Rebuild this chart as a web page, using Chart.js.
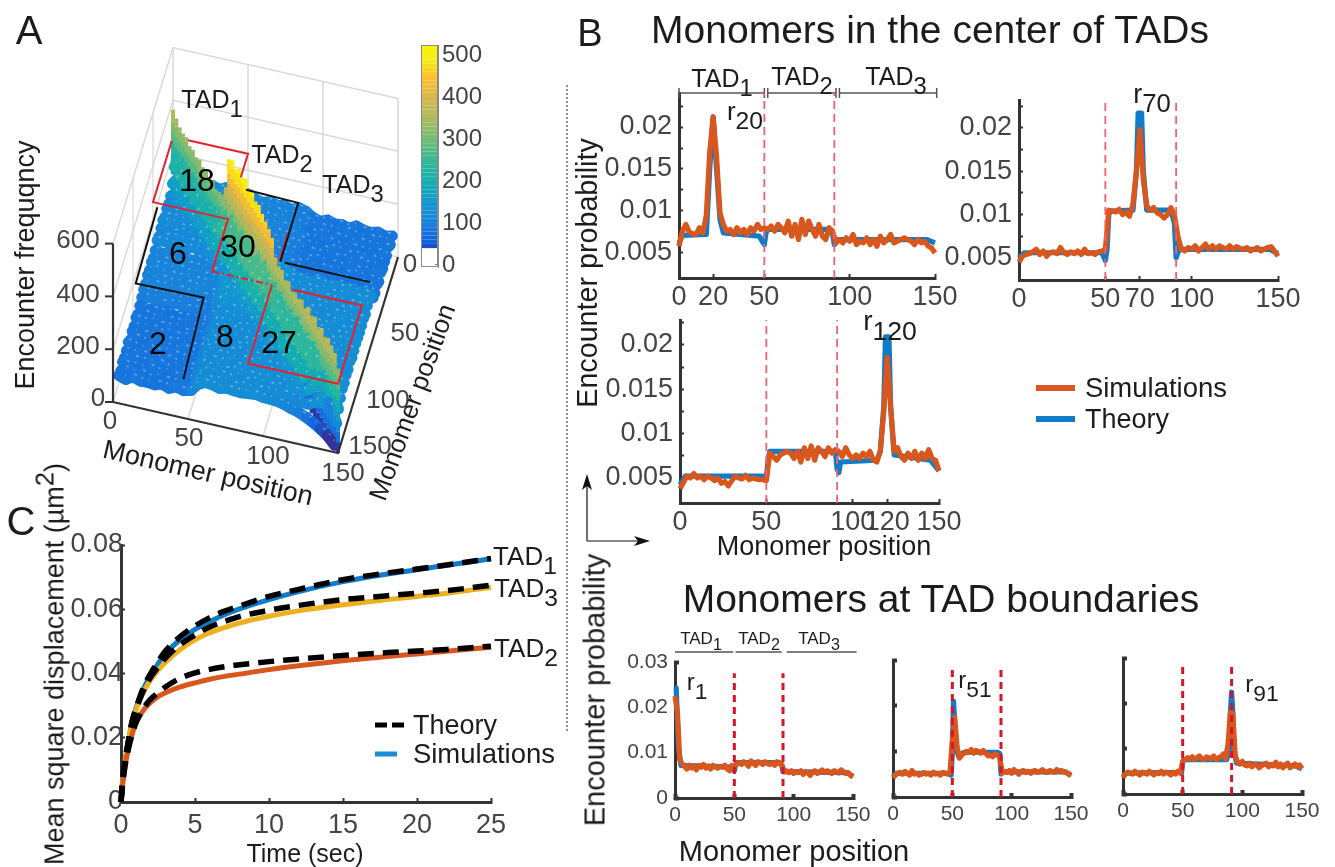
<!DOCTYPE html>
<html>
<head>
<meta charset="utf-8">
<title>TAD encounter figure</title>
<script src="https://cdn.jsdelivr.net/npm/chart.js@4"></script>
<style>
  html, body { margin: 0; background: #fff; }
  #page { position: relative; width: 1335px; height: 867px; overflow: hidden; font-family: 'Liberation Sans', Arial, sans-serif; filter: blur(0.5px); }
  canvas { position: absolute; }
  .lbl { position: absolute; white-space: nowrap; color: #1c1c1c; transform: translate(-50%, -50%); line-height: 1; }
  .lbl sub { font-size: .95em; vertical-align: -.38em; line-height: 0; }
  .lbl sup { font-size: .95em; vertical-align: .38em; line-height: 0; }
  .swatch { position: absolute; }
  svg { position: absolute; left: 0; top: 0; }
</style>
</head>
<body>
<div id="page"></div>
<script>
// ---- panel A: encounter map, one row per 5 monomers (rows y=0..150, columns x=0..150)
const encounterRows = [
  [260,190,150,128,122,127,119,131,124,118,126,112,106,115,108,113,104,117,109,92,84,95,86,90,82,97,88,85,93,83,90],
  [190,250,185,150,125,118,130,122,127,121,129,106,114,109,117,103,112,108,115,85,94,87,91,83,96,89,84,92,86,95,81],
  [150,185,250,188,148,126,120,131,119,128,123,115,105,111,107,116,110,104,113,90,83,97,86,92,88,82,94,87,91,84,96],
  [128,150,188,245,186,150,124,118,130,122,127,109,116,104,112,107,114,111,105,86,93,84,95,88,81,96,85,90,83,94,87],
  [122,125,148,186,240,184,147,127,121,129,118,113,108,117,105,111,103,115,110,94,87,91,82,97,89,84,92,86,96,82,88],
  [127,118,126,150,184,240,182,149,123,119,131,104,112,107,116,109,114,106,117,83,92,88,96,85,90,94,81,97,87,91,85],
  [119,130,120,124,147,182,238,186,146,128,122,116,109,113,105,118,107,112,104,91,85,95,87,93,83,89,96,84,92,86,94],
  [131,122,131,118,127,149,186,236,188,150,125,108,115,106,114,110,117,103,111,87,96,82,92,86,94,90,85,97,83,89,84],
  [124,127,119,130,121,123,146,188,240,192,158,117,104,112,109,115,106,113,108,95,84,90,88,81,97,86,93,82,91,85,96],
  [118,121,128,122,129,119,128,150,192,270,215,150,113,108,116,104,111,107,115,82,91,86,94,89,85,96,83,92,87,95,88],
  [126,129,123,127,118,131,122,125,158,215,290,225,165,118,106,112,109,116,103,93,87,97,83,91,88,84,95,86,90,82,94],
  [112,106,115,109,113,104,116,108,117,150,225,300,230,180,150,156,148,160,152,128,134,126,131,137,125,133,129,135,127,132,124],
  [106,114,105,116,108,112,109,115,104,113,165,230,300,232,182,150,158,147,155,133,127,135,124,130,136,128,131,126,134,129,137],
  [115,109,111,104,117,107,113,106,112,108,118,180,232,300,235,185,152,157,149,126,132,129,136,125,131,134,127,133,130,128,135],
  [108,117,107,112,105,116,105,114,109,116,106,150,182,235,300,236,186,150,159,131,125,137,128,134,126,130,136,124,132,135,127],
  [113,103,116,107,111,109,118,110,115,104,112,156,150,185,236,300,238,188,153,135,129,124,133,127,137,125,131,135,126,130,134],
  [104,112,110,114,103,114,107,117,106,111,109,148,158,152,186,238,300,240,190,127,136,131,125,135,129,133,124,128,137,126,131],
  [106,102,100,104,108,99,105,97,103,100,106,150,147,150,146,188,240,300,242,195,130,126,134,128,132,127,136,131,125,133,129],
  [100,106,104,97,102,108,96,103,100,106,95,138,142,136,144,140,190,242,290,235,175,140,127,133,130,136,126,129,134,128,132],
  [92,85,90,86,94,83,91,87,95,82,93,128,133,126,131,135,127,195,235,280,225,170,142,136,131,139,133,128,137,130,135],
  [84,94,83,93,87,92,85,96,84,91,87,134,127,132,125,129,136,130,175,225,270,222,168,140,134,129,138,132,127,136,131],
  [95,87,97,84,91,88,95,82,90,86,97,126,135,129,137,124,131,126,140,170,222,270,224,166,141,135,128,137,131,134,129],
  [86,91,86,95,82,96,87,92,88,94,83,131,124,136,128,133,125,134,127,142,168,224,268,220,165,138,133,127,136,130,138],
  [90,83,92,88,97,85,93,86,81,89,91,137,130,125,134,127,135,128,133,136,140,166,220,268,222,167,139,134,128,137,132],
  [82,96,88,81,89,90,83,94,97,85,88,125,136,131,126,137,129,132,130,131,134,141,165,222,266,224,170,136,133,129,135],
  [97,89,82,96,84,94,89,90,86,96,84,133,128,134,130,125,133,127,136,139,129,135,138,167,224,266,226,168,135,131,128],
  [88,84,94,85,92,81,96,85,93,83,95,129,131,127,136,131,124,136,126,133,138,128,133,139,170,226,264,222,166,137,130],
  [85,92,87,90,86,97,84,97,82,92,86,135,126,133,124,135,128,131,129,128,132,137,127,134,136,168,222,260,218,160,118],
  [93,86,91,83,96,87,92,83,91,87,90,127,134,130,132,126,137,125,134,137,127,131,136,128,133,135,150,190,210,170,100],
  [83,95,84,94,82,91,86,89,85,95,82,132,129,128,135,130,126,133,128,130,136,134,130,137,129,120,118,130,150,140,70],
  [90,81,96,87,88,85,94,84,96,88,94,124,137,135,127,134,131,129,132,135,131,129,128,122,112,104,92,78,60,40,10]
];
// ridge height along the diagonal, one value per 3 monomers
const ridgeTop = [365,350,335,330,335,320,325,315,325,315,320,310,320,305,315,325,370,495,510,495,515,500,515,495,505,485,490,475,465,455,440,385,370,375,355,370,350,365,360,375,360,385,370,385,365,380,365,380,370,360,320];
const colorStops = [0,40,60,100,150,200,250,300,350,400,450,500];
const colorValues = ['#3a2a8a','#2b3aa8','#0f62e0','#1a7edc','#1296d2','#14aeb0','#30b898','#70bc78','#a8ba60','#d4b64e','#fcbf2e','#f8f00f'];
const colorbarLevels = [40,50,60,70,80,90,100,110,120,130,140,150,160,170,180,190,200,210,220,230,240,250,260,270,280,290,300,310,320,330,340,350,360,370,380,390,400,410,420,430,440,450,460,470,480,490,500,524];
const colorbarTicks = [0,100,200,300,400,500];
const redPaths = [
  [[10,0],[50,0],[50,18]],
  [[0,3],[0,50],[50,50],[50,90]],
  [[90,90],[90,150],[150,150],[150,90],[104,90]],
  [[90,50],[90,72]]
];
const redDashedPath = [[50,90],[90,90]];
const blackPaths = [
  [[0,39],[1,97],[46,96],[49,158]],
  [[52,12],[87,13],[87,58]],
  [[90,58],[147,58]]
];

// ---- panel B/D: simulations sampled every 2 monomers, in units of 1e-4
const r20Sim = [58,76,84,75,73,72,80,74,95,170,212,165,98,84,76,78,72,80,74,78,72,80,76,84,78,80,78,82,76,84,80,74,88,70,84,66,90,72,88,78,70,84,70,66,80,76,62,66,62,68,64,72,60,64,62,68,60,66,58,70,62,66,72,62,64,66,68,66,64,60,66,62,64,58,56,50];
const r20TheoryX = [0,2,16,18,20,22,24,26,47,49,50,51,52,88,90,91,92,93,145,150];
const r20TheoryY = [62,71,72,150,212,150,90,74,70,63,60,74,78,78,72,60,62,66,66,62];
const r70Sim = [45,52,54,55,57,60,54,58,52,56,57,55,62,56,54,57,55,58,54,60,55,56,54,57,58,60,105,104,103,106,100,103,98,112,150,198,140,110,105,108,102,100,96,100,108,100,75,60,58,62,60,64,58,62,66,60,64,60,64,62,60,64,60,63,61,60,62,58,60,62,58,60,62,63,58,52];
const r70TheoryX = [0,3,48,50,51,52,53,66,68,69,71,72,74,88,90,91,92,93,145,150];
const r70TheoryY = [50,56,56,47,60,100,104,105,150,217,217,150,105,105,90,50,56,60,60,55];
const r120Sim = [38,45,52,50,55,50,52,48,52,50,47,50,44,46,41,47,52,50,49,53,48,50,49,48,48,47,78,74,70,76,78,80,78,72,80,68,84,72,86,70,84,80,74,84,78,82,80,74,84,76,72,76,72,78,74,80,70,68,80,125,186,130,80,84,74,70,78,72,80,70,78,72,82,72,70,58];
const r120TheoryX = [0,3,48,50,51,52,90,91,92,93,114,116,118,119,121,122,124,145,150];
const r120TheoryY = [42,52,52,50,70,80,80,60,56,68,70,80,130,209,209,130,76,70,58];
const r1Sim = [225,190,85,75,70,64,72,66,70,62,72,68,74,66,70,64,72,68,66,70,68,72,64,60,72,68,76,78,74,80,76,70,82,76,72,80,78,74,80,76,74,78,72,80,76,74,58,60,56,60,54,58,56,60,52,58,55,50,58,60,54,58,62,56,60,58,54,60,58,55,62,58,54,56,50,46];
const r1TheoryX = [0,1,3,5,48,50,51,52,88,90,91,145,150];
const r1TheoryY = [243,243,110,72,68,60,72,78,78,72,58,56,48];
const r51Sim = [42,48,52,54,50,56,52,48,58,50,52,48,50,54,50,52,48,54,50,52,48,54,52,50,54,125,175,110,85,92,96,100,98,104,96,102,100,96,102,96,90,92,88,94,92,88,52,56,54,58,52,60,55,50,56,58,54,56,52,57,58,54,56,60,55,54,58,56,54,60,56,58,55,54,50,46];
const r51TheoryX = [0,3,47,49,50,51,52,53,55,60,88,90,91,92,145,150];
const r51TheoryY = [45,52,52,48,100,210,160,110,90,98,98,95,50,55,55,48];
const r91Sim = [36,44,48,46,44,50,46,42,48,46,44,50,46,42,47,45,50,44,48,46,42,48,44,50,46,72,76,80,78,82,76,80,84,78,76,82,80,78,84,76,80,82,88,78,110,180,178,85,70,66,72,64,62,68,60,64,66,58,62,66,68,60,64,62,70,60,66,58,64,68,58,62,66,60,64,56];
const r91TheoryX = [0,3,48,49,50,51,87,89,90,91,92,93,95,145,150];
const r91TheoryY = [38,46,48,46,70,76,76,100,180,225,180,100,68,62,55];
const centerYTicks = [0.005,0.0075,0.01,0.0125,0.015,0.0175,0.02,0.0225];
const centerYLabels = ['0.005','','0.01','','0.015','','0.02',''];
const boundaryYTicks = [0,0.01,0.02,0.03];
const boundaryYLabels = ['0','0.01','0.02','0.03'];
const tadBoundaries = [50,91];
const tadBracketB = [[0,50],[52,92],[94,151]];
const tadBracketD = [[0,49],[51,90],[94,153]];

// ---- panel C: mean square displacement
const timeSec = [0,0.1,0.25,0.5,0.75,1,1.5,2,2.5,3,4,5,6,7,8,10,12,15,18,20,22,25];
const tad1Sim = [0,.006,.012,.019,.025,.029,.035,.0395,.043,.0462,.0505,.0537,.0562,.0583,.0601,.063,.0655,.0686,.071,.0723,.0737,.0757];
const tad3Sim = [0,.006,.012,.019,.0245,.0285,.034,.038,.041,.0435,.0475,.0505,.0527,.0543,.0557,.0578,.0595,.0614,.063,.064,.065,.0668];
const tad2Sim = [0,.005,.0105,.0165,.021,.0245,.0285,.031,.0328,.034,.0358,.0371,.0382,.0391,.0398,.0412,.0424,.044,.0453,.0461,.0469,.0482];
const tad1Theory = [0,.006,.012,.019,.025,.029,.0355,.04,.0437,.047,.0515,.0548,.0574,.0594,.061,.064,.0662,.0692,.0713,.0725,.0738,.0758];
const tad3Theory = [0,.006,.012,.019,.025,.0285,.0345,.0388,.042,.0448,.049,.052,.0545,.0562,.0577,.0597,.0612,.063,.0642,.065,.0658,.0675];
const tad2Theory = [0,.005,.0105,.0165,.021,.0245,.029,.032,.034,.0358,.0385,.0402,.0413,.0421,.0427,.0437,.0445,.0456,.0465,.047,.0475,.0485];

const BLUE = '#0f7bc9', ORANGE = '#d9561c', YELLOW = '#edb120', AXIS = '#333333', TICKTEXT = '#444444';
const page = document.getElementById('page');
Chart.defaults.font.family = "'Liberation Sans', Arial, sans-serif";

function addCanvas(left, top, width, height) {
  const c = document.createElement('canvas');
  c.width = width; c.height = height;
  c.style.left = left + 'px'; c.style.top = top + 'px';
  c.style.width = width + 'px'; c.style.height = height + 'px';
  page.appendChild(c);
  return c;
}

function label(html, x, y, size, opts = {}) {
  const d = document.createElement('div');
  d.className = 'lbl';
  d.innerHTML = html;
  d.style.left = x + 'px'; d.style.top = y + 'px'; d.style.fontSize = size + 'px';
  if (opts.color) d.style.color = opts.color;
  if (opts.rot) d.style.transform = `translate(-50%,-50%) rotate(${opts.rot}deg)`;
  page.appendChild(d);
}

function line(points, color, width, extra = {}) {
  return Object.assign({ data: points, showLine: true, borderColor: color, borderWidth: width, pointRadius: 0, clip: false, borderCapStyle: 'butt' }, extra);
}

// box = pixel edges of the plot area, so panels land where they do in the figure
function axesChart(box, datasets, cfg) {
  const padL = 75, padR = 32, padT = 18, padB = 42;
  const w = box.right - box.left + padL + padR;
  const h = box.bottom - box.top + padT + padB;
  return new Chart(addCanvas(box.left - padL, box.top - padT, w, h), {
    type: 'scatter',
    data: { datasets },
    options: {
      responsive: false, animation: false, devicePixelRatio: 1,
      layout: { autoPadding: false, padding: { left: 0, right: padR, top: padT, bottom: 0 } },
      plugins: { legend: { display: false }, tooltip: { enabled: false } },
      scales: {
        x: {
          type: 'linear', min: cfg.xMin, max: cfg.xMax,
          afterFit: s => { s.height = padB; s.paddingLeft = 0; s.paddingRight = 0; },
          afterBuildTicks: s => { s.ticks = cfg.xTicks.map(v => ({ value: v })); },
          border: { color: AXIS, width: cfg.axisWidth },
          grid: { drawOnChartArea: false, tickLength: -4, tickWidth: cfg.tickWidth, tickColor: AXIS },
          ticks: { autoSkip: false, maxRotation: 0, padding: cfg.xPad, color: TICKTEXT, font: { size: cfg.xSize }, callback: v => String(v) }
        },
        y: {
          type: 'linear', min: cfg.yMin, max: cfg.yMax,
          afterFit: s => { s.width = padL; s.paddingTop = 0; s.paddingBottom = 0; },
          afterBuildTicks: s => { s.ticks = cfg.yTicks.map(v => ({ value: v })); },
          border: { color: AXIS, width: cfg.axisWidth },
          grid: { drawOnChartArea: false, tickLength: -4, tickWidth: cfg.tickWidth, tickColor: AXIS },
          ticks: { autoSkip: false, padding: cfg.yPad, color: TICKTEXT, font: { size: cfg.ySize }, callback: v => cfg.yLabels[cfg.yTicks.indexOf(v)] || '' }
        }
      }
    }
  });
}

function profile(box, sim, theoryX, theoryY, cfg) {
  const simPts = sim.map((v, i) => ({ x: i * 2, y: v / 1e4 }));
  const theoryPts = theoryX.map((x, i) => ({ x, y: theoryY[i] / 1e4 }));
  const sets = [];
  tadBoundaries.forEach(b => sets.push(line([{ x: b, y: cfg.yMin }, { x: b, y: cfg.dashTop }], cfg.dashColor, cfg.dashWidth, { borderDash: cfg.dash })));
  sets.push(line(simPts, ORANGE, cfg.simWidth, { borderJoinStyle: 'round' }));
  sets.push(line(theoryPts, BLUE, cfg.simWidth, { borderJoinStyle: 'round' }));
  (cfg.bracket || []).forEach(b => sets.push(line([{ x: b[0], y: cfg.bracketY }, { x: b[1], y: cfg.bracketY }], '#555555', 1.5,
    { pointStyle: 'line', pointRotation: 90, pointRadius: cfg.bracketR, pointBorderColor: '#555555', pointBorderWidth: 1.5 })));
  axesChart(box, sets, Object.assign({ xMin: 0, xMax: 150 }, cfg));
}

const centerCfg = { yTicks: centerYTicks, yLabels: centerYLabels, axisWidth: 3, tickWidth: 2, xPad: 7, yPad: 11, xSize: 27, ySize: 27,
  dashColor: '#f4606e', dashWidth: 1.8, dash: [8, 5], simWidth: 5.2 };
const boundaryCfg = { axisWidth: 3, tickWidth: 4, xPad: 9, yPad: 11, xSize: 21, ySize: 21, xTicks: [0, 50, 100, 150],
  yMin: 0, yMax: 0.03, dashColor: '#d8142a', dashWidth: 3, dash: [7, 5], simWidth: 5.2 };

profile({ left: 679, right: 935, top: 93, bottom: 278 }, r20Sim, r20TheoryX, r20TheoryY, Object.assign({}, centerCfg,
  { xTicks: [0, 20, 50, 100, 150], yMin: 0.00202, yMax: 0.02405, dashTop: 0.02405, bracket: tadBracketB, bracketY: 0.02405, bracketR: 5 }));
profile({ left: 1019, right: 1278, top: 100, bottom: 280 }, r70Sim, r70TheoryX, r70TheoryY, Object.assign({}, centerCfg,
  { xTicks: [0, 50, 70, 100, 150], yMin: 0.00246, yMax: 0.0232, dashTop: 0.0232 }));
profile({ left: 680, right: 939, top: 320, bottom: 503 }, r120Sim, r120TheoryX, r120TheoryY, Object.assign({}, centerCfg,
  { xTicks: [0, 50, 100, 120, 150], yMin: 0.00218, yMax: 0.0228, dashTop: 0.0228 }));
profile({ left: 675, right: 853, top: 662, bottom: 798 }, r1Sim, r1TheoryX, r1TheoryY, Object.assign({}, boundaryCfg,
  { yTicks: boundaryYTicks, yLabels: boundaryYLabels, dashTop: 0.0275, bracket: tadBracketD, bracketY: 0.0322, bracketR: 4 }));
profile({ left: 893, right: 1071, top: 660, bottom: 797 }, r51Sim, r51TheoryX, r51TheoryY, Object.assign({}, boundaryCfg,
  { yTicks: boundaryYTicks, yLabels: [], dashTop: 0.0285 }));
profile({ left: 1123, right: 1302, top: 658, bottom: 794 }, r91Sim, r91TheoryX, r91TheoryY, Object.assign({}, boundaryCfg,
  { yTicks: boundaryYTicks, yLabels: [], dashTop: 0.0285 }));

// panel C
const msd = ys => timeSec.map((t, i) => ({ x: t, y: ys[i] }));
const curve = { cubicInterpolationMode: 'monotone' };
const dashed = Object.assign({ borderDash: [16, 9] }, curve);
axesChart({ left: 121, right: 491, top: 545, bottom: 802 }, [
  line(msd(tad2Theory), '#000', 5.5, dashed),
  line(msd(tad3Theory), '#000', 5.5, dashed),
  line(msd(tad1Theory), '#000', 5.5, dashed),
  line(msd(tad2Sim), ORANGE, 5, curve),
  line(msd(tad3Sim), YELLOW, 5, curve),
  line(msd(tad1Sim), BLUE, 5, curve)
], { xMin: 0, xMax: 25, xTicks: [0, 5, 10, 15, 20, 25], yMin: 0, yMax: 0.08, yTicks: [0, 0.02, 0.04, 0.06, 0.08],
  yLabels: ['0', '0.02', '0.04', '0.06', '0.08'], axisWidth: 3, tickWidth: 2, xPad: 11, yPad: 2, xSize: 27, ySize: 27 });

// panel A: oblique projection of (monomer x, monomer y, frequency) onto the page
const project = (x, y, z) => ({ x: 113 + x * 1.5 + (150 - y) * 0.4, y: 402 + x * 0.34 - (150 - y) * 1.307 - z * 0.264 });
function colorFor(z) {
  for (let i = 1; i < colorStops.length; i++) {
    if (z <= colorStops[i]) {
      const f = (z - colorStops[i - 1]) / (colorStops[i] - colorStops[i - 1]);
      const a = colorValues[i - 1], b = colorValues[i];
      const ch = k => Math.round(parseInt(a.substr(k, 2), 16) * (1 - f) + parseInt(b.substr(k, 2), 16) * f);
      return `rgb(${ch(1)},${ch(3)},${ch(5)})`;
    }
  }
  return colorValues[colorValues.length - 1];
}

const sceneBack = [], sceneSurface = [], sceneTop = [];
const GRIDC = '#d9d9d9';
[0, 200, 400, 600].forEach(z => {
  sceneBack.push(line([project(0, 150, z), project(0, 0, z), project(150, 0, z)], GRIDC, 1.5));
});
[0, 50, 100, 150].forEach(x => sceneBack.push(line([project(x, 0, 0), project(x, 0, 600)], GRIDC, 1.5)));
[50, 100].forEach(x => sceneBack.push(line([project(x, 0, 0), project(x, 150, 0)], GRIDC, 1.5)));
[50, 100].forEach(y => sceneBack.push(line([project(0, y, 0), project(0, y, 600)], GRIDC, 1.2)));

// rows are inset a little so the thick round-capped strokes stay on the map edge
const rowInset = v => 3 + v * (144 / 150);
encounterRows.forEach((row, r) => {
  const y = r * 5;
  const pts = row.map((z, c) => project(rowInset(c * 5), rowInset(y), z));
  sceneSurface.push(line(pts, '#1585d8', 11, {
    borderCapStyle: 'round',
    segment: { borderColor: ctx => colorFor((row[ctx.p0DataIndex] + row[ctx.p1DataIndex]) / 2) }
  }));
  // pale flecks on the back half of each row, the map looks mottled in the figure
  const fleck = row.map((z, c) => project(rowInset(c * 5), rowInset(y) - 2.5, z));
  sceneSurface.push(line(fleck, 'rgba(255,255,255,0.3)', 1.8, { borderDash: [2, 6, 1, 9, 3, 5], borderDashOffset: r * 7 }));
  ridgeTop.forEach((top, k) => {
    const t = k * 3;
    if (t < y || t >= y + 5) return;
    const levels = [];
    // fins stand on the map, only the tail end of the ridge drops to the ground
    for (let z = t >= 120 ? 0 : 120; z < top; z += 40) levels.push(z);
    levels.push(top);
    sceneSurface.push(line(levels.map(z => project(t, t, z)), '#1585d8', 4, {
      segment: { borderColor: ctx => colorFor(levels[ctx.p1DataIndex]) }
    }));
  });
});

redPaths.forEach(p => sceneTop.push(line(p.map(q => project(q[0], q[1], 262)), '#e8202c', 2, { borderJoinStyle: 'miter' })));
sceneTop.push(line(redDashedPath.map(q => project(q[0], q[1], 262)), '#e8202c', 2, { borderDash: [7, 3, 2, 3] }));
blackPaths.forEach(p => sceneTop.push(line(p.map(q => project(q[0], q[1], 188)), '#111', 2, { borderJoinStyle: 'miter' })));
sceneTop.push(line([project(0, 150, 0), project(150, 150, 0), project(150, 0, 0)], AXIS, 2.2));
sceneTop.push(line([project(0, 150, 0), project(0, 150, 600)], AXIS, 2.2));
[0, 200, 400, 600].forEach(z => {
  const p = project(0, 150, z);
  sceneTop.push(line([p, { x: p.x - 8, y: p.y }], AXIS, 2));
});

// first dataset is painted last in Chart.js, so flip back-to-front order
const sceneSets = sceneBack.concat(sceneSurface, sceneTop).reverse();
new Chart(addCanvas(0, 0, 470, 520), {
  type: 'scatter',
  data: { datasets: sceneSets },
  options: {
    responsive: false, animation: false, devicePixelRatio: 1,
    layout: { autoPadding: false, padding: 0 },
    plugins: { legend: { display: false }, tooltip: { enabled: false } },
    scales: {
      x: { type: 'linear', min: 0, max: 470, display: false },
      y: { type: 'linear', min: 0, max: 520, reverse: true, display: false }
    }
  }
});

// colorbar
const barPts = colorbarLevels.map(v => ({ x: 0.5, y: v }));
new Chart(addCanvas(421, 30, 70, 252), {
  type: 'scatter',
  data: { datasets: [line(barPts, '#1585d8', 17, { segment: { borderColor: ctx => colorFor(colorbarLevels[ctx.p1DataIndex]) } })] },
  options: {
    responsive: false, animation: false, devicePixelRatio: 1,
    layout: { autoPadding: false, padding: { left: 0, right: 0, top: 15, bottom: 15 } },
    plugins: { legend: { display: false }, tooltip: { enabled: false } },
    scales: {
      x: { type: 'linear', min: 0, max: 1, display: false, afterFit: s => { s.height = 0; } },
      y: {
        type: 'linear', position: 'right', min: -5, max: 524,
        afterFit: s => { s.width = 53; s.paddingTop = 0; s.paddingBottom = 0; },
        afterBuildTicks: s => { s.ticks = colorbarTicks.map(v => ({ value: v })); },
        border: { color: '#8a8a8a', width: 1 },
        grid: { drawOnChartArea: false, tickLength: -3, tickColor: '#8a8a8a' },
        ticks: { padding: 7, color: TICKTEXT, font: { size: 24 }, callback: v => String(v) }
      }
    }
  }
});
const frame = document.createElement('div');
frame.className = 'swatch';
Object.assign(frame.style, { left: '421px', top: '45px', width: '17px', height: '222px', border: '1px solid #8a8a8a', boxSizing: 'border-box' });
page.appendChild(frame);

// ---- text
label('A', 29, 30, 40); label('B', 590, 33, 38); label('C', 21, 521, 40);
label('Monomers in the center of TADs', 930, 29, 39);
label('Monomers at TAD boundaries', 941, 598, 39);

[['600', 78, 239], ['400', 78, 293], ['200', 78, 345], ['0', 98, 397], ['0', 110, 420], ['50', 189, 437], ['100', 268, 455], ['150', 343, 472],
 ['0', 410, 263], ['50', 405, 332], ['100', 388, 399], ['150', 370, 445]].forEach(t => label(t[0], t[1], t[2], 26, { color: TICKTEXT }));
label('Encounter frequqncy', 25, 265, 27, { rot: -90 });
label('Monomer position', 208, 473, 27, { rot: 13 });
label('Monomer position', 412, 402, 26, { rot: -70 });
label('TAD<sub>1</sub>', 212, 99, 25); label('TAD<sub>2</sub>', 282, 154, 25); label('TAD<sub>3</sub>', 353, 184, 25);
[['18', 197, 180], ['6', 178, 253], ['30', 238, 246], ['2', 158, 343], ['8', 225, 336], ['27', 279, 342]].forEach(t => label(t[0], t[1], t[2], 32, { color: '#000' }));

label('TAD<sub>1</sub>', 722, 78, 25); label('TAD<sub>2</sub>', 802, 76, 25); label('TAD<sub>3</sub>', 896, 76, 25);
label('r<sub>20</sub>', 745, 111, 26); label('r<sub>70</sub>', 1152, 94, 27); label('r<sub>120</sub>', 890, 321, 28);
label('Encounter probability', 587, 273, 28.7, { rot: -90 });
label('Monomer position', 824, 546, 27);
label('Simulations', 1156, 388, 27.5); label('Theory', 1127, 419, 27);
label('Encounter probability', 595, 690, 29, { rot: -90 });
label('Monomer position', 794, 851, 29);
label('TAD<sub>1</sub>', 701, 638, 17); label('TAD<sub>2</sub>', 759, 638, 17); label('TAD<sub>3</sub>', 819, 638, 17);
label('r<sub>1</sub>', 697, 682, 24); label('r<sub>51</sub>', 975, 680, 24); label('r<sub>91</sub>', 1262, 684, 24);

label('Mean square displacement (µm<sup>2</sup>)', 55, 664, 27, { rot: -90 });
label('Time (sec)', 305, 853, 25);
label('TAD<sub>1</sub>', 525, 556, 26); label('TAD<sub>3</sub>', 526, 588, 26); label('TAD<sub>2</sub>', 526, 648, 26);
label('Theory', 455, 725, 27); label('Simulations', 484, 754, 27.5);

// legend handles, dotted divider and the small axis arrows
const svg = document.createElementNS('http://www.w3.org/2000/svg', 'svg');
svg.setAttribute('width', 1335); svg.setAttribute('height', 867);
svg.innerHTML = `
  <line x1="567" y1="85" x2="567" y2="731" stroke="#222" stroke-width="1" stroke-dasharray="2 2"/>
  <line x1="587" y1="541" x2="587" y2="480" stroke="#111" stroke-width="1.2"/>
  <polygon points="587,474 582,490 587,486 592,490" fill="#111"/>
  <line x1="587" y1="541" x2="642" y2="541" stroke="#111" stroke-width="1.2"/>
  <polygon points="650,541 634,536 638,541 634,546" fill="#111"/>
  <line x1="1036" y1="388" x2="1075" y2="388" stroke="${ORANGE}" stroke-width="6"/>
  <line x1="1036" y1="419" x2="1075" y2="419" stroke="${BLUE}" stroke-width="6"/>
  <line x1="375" y1="725" x2="404" y2="725" stroke="#000" stroke-width="5" stroke-dasharray="12 5"/>
  <line x1="375" y1="754" x2="397" y2="754" stroke="#1a8cd8" stroke-width="5"/>`;
page.appendChild(svg);
</script>
</body>
</html>
